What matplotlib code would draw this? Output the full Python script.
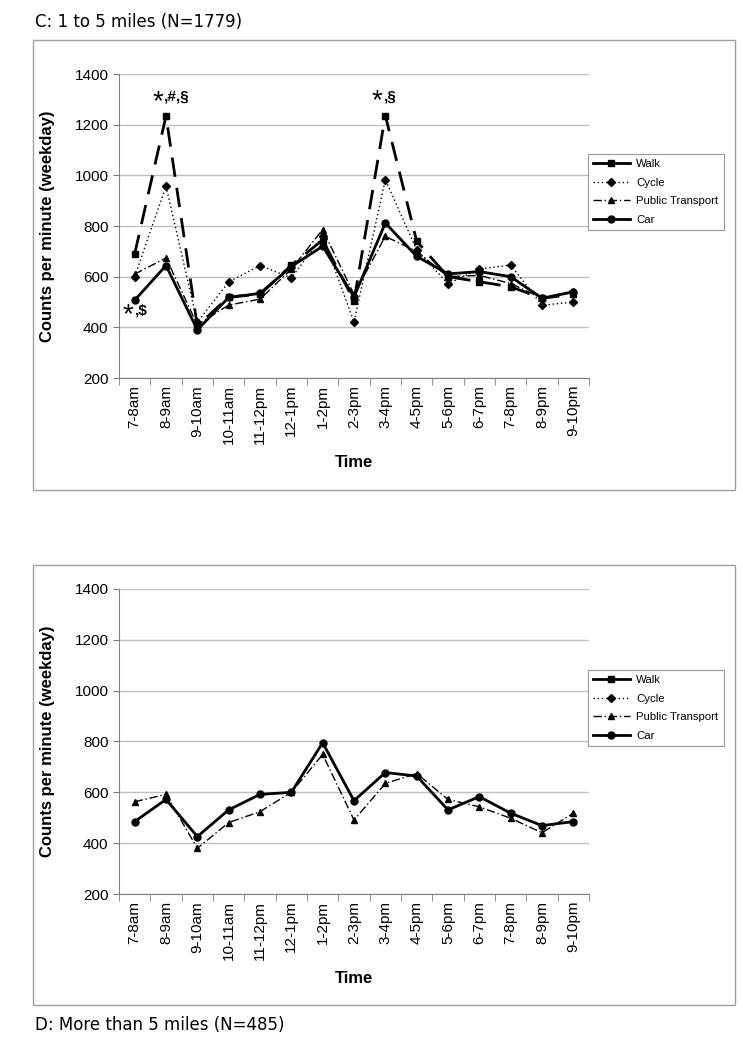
import matplotlib.pyplot as plt
from matplotlib.lines import Line2D
from matplotlib.patches import Rectangle

# categorie orarie
times = ['7-8am', '8-9am', '9-10am', '10-11am', '11-12pm', '12-1pm', '1-2pm', '2-3pm',
         '3-4pm', '4-5pm', '5-6pm', '6-7pm', '7-8pm', '8-9pm', '9-10pm']

# pannello C: da 1 a 5 miglia
c_walk = [690, 1234, 405, 520, 530, 645, 745, 505, 1236, 740, 600, 580, 560, 515, 530]
c_cycle = [600, 957, 420, 579, 644, 595, 760, 421, 983, 706, 572, 630, 646, 487, 500]
c_pt = [610, 674, 410, 488, 511, 630, 786, 530, 759, 700, 600, 605, 573, 515, 545]
c_car = [507, 644, 390, 518, 534, 640, 720, 520, 812, 680, 611, 620, 600, 515, 540]

# pannello D: più di 5 miglia (solo auto e trasporto pubblico visibili)
d_pt = [563, 592, 380, 481, 524, 600, 749, 491, 635, 674, 572, 543, 498, 441, 518]
d_car = [485, 572, 426, 531, 592, 600, 795, 567, 678, 664, 531, 583, 518, 469, 485]

plt.rcParams['font.family'] = ['Liberation Sans', 'DejaVu Sans']

styles = {
    'Walk': dict(color='black', lw=2.0, dashes=(7, 4), marker='s', ms=5),
    'Cycle': dict(color='black', lw=1.0, linestyle=(0, (1, 2)), marker='D', ms=4),
    'Public Transport': dict(color='black', lw=1.0, linestyle=(0, (6, 2, 1, 2)), marker='^', ms=5),
    'Car': dict(color='black', lw=2.0, linestyle='-', marker='o', ms=5),
}

fig = plt.figure(figsize=(7.43, 10.49), dpi=100)


def setup_axes(ax):
    x = range(len(times))
    ax.set_xlim(-0.5, len(times) - 0.5)
    ax.set_ylim(200, 1400)
    ax.set_yticks(range(200, 1401, 200))
    ax.set_xticks(list(x))
    ax.set_xticklabels(times, rotation=90, fontsize=11)
    ax.set_xticks([i + 0.5 for i in range(-1, len(times))], minor=True)
    ax.tick_params(axis='x', which='major', length=0, pad=5)
    ax.tick_params(axis='x', which='minor', length=5, color='#808080')
    ax.tick_params(axis='y', length=4, color='#808080', labelsize=11)
    ax.grid(axis='y', color='#c0c0c0', lw=1)
    ax.set_axisbelow(True)
    for s in ['top', 'right']:
        ax.spines[s].set_visible(False)
    for s in ['left', 'bottom']:
        ax.spines[s].set_color('#808080')
    ax.set_ylabel('Counts per minute (weekday)', fontsize=12, fontweight='bold', labelpad=14)
    ax.set_xlabel('Time', fontsize=12, fontweight='bold', labelpad=8)


def add_legend(ax, y_anchor):
    handles = []
    for k in styles:
        st = dict(styles[k])
        if k == 'Walk':
            st.pop('dashes')
            st['linestyle'] = '-'
        handles.append(Line2D([], [], **st))
    leg = ax.legend(handles, list(styles.keys()), loc='upper left',
                    bbox_to_anchor=(588 / 743, y_anchor), bbox_transform=fig.transFigure,
                    fontsize=8.2, frameon=True, fancybox=False, edgecolor='#808080',
                    handlelength=3.2, borderpad=0.45, labelspacing=0.75, handletextpad=0.6,
                    borderaxespad=0)
    leg.get_frame().set_linewidth(0.8)


x = list(range(len(times)))

# cornici dei pannelli
fig.patches.append(Rectangle((33 / 743, 1 - 490 / 1049), 702 / 743, 450 / 1049,
                             transform=fig.transFigure, fill=False, edgecolor='#a0a0a0', lw=1))
fig.patches.append(Rectangle((33 / 743, 1 - 1005 / 1049), 702 / 743, 440 / 1049,
                             transform=fig.transFigure, fill=False, edgecolor='#a0a0a0', lw=1))

# pannello C
ax1 = fig.add_axes([119 / 743, 1 - 378 / 1049, 470 / 743, 304 / 1049])
ax1.plot(x, c_walk, **styles['Walk'])
ax1.plot(x, c_cycle, **styles['Cycle'])
ax1.plot(x, c_pt, **styles['Public Transport'])
ax1.plot(x, c_car, **styles['Car'])
setup_axes(ax1)
add_legend(ax1, 1 - 154 / 1049)

# note di significatività
def note(ax, xpos, ypos, rest):
    ax.text(xpos, ypos, '*', fontsize=20, ha='right', va='bottom')
    ax.annotate(rest, (xpos, ypos), xytext=(1, 8), textcoords='offset points',
                fontsize=11, fontweight='bold', ha='left', va='bottom')

note(ax1, 0.9, c_walk[1] + 5, ',#,§')
note(ax1, 7.9, c_walk[8] + 5, ',§')
note(ax1, -0.05, 395, ',$')

# pannello D
ax2 = fig.add_axes([119 / 743, 1 - 894 / 1049, 470 / 743, 305 / 1049])
ax2.plot(x, d_pt, **styles['Public Transport'])
ax2.plot(x, d_car, **styles['Car'])
setup_axes(ax2)
add_legend(ax2, 1 - 670 / 1049)

fig.text(35 / 743, 1 - 22 / 1049, 'C: 1 to 5 miles (N=1779)', fontsize=12,
         family=['DejaVu Sans'], va='center')
fig.text(35 / 743, 1 - 1025 / 1049, 'D: More than 5 miles (N=485)', fontsize=12,
         family=['DejaVu Sans'], va='center')

fig.savefig('out.png', dpi=100)
